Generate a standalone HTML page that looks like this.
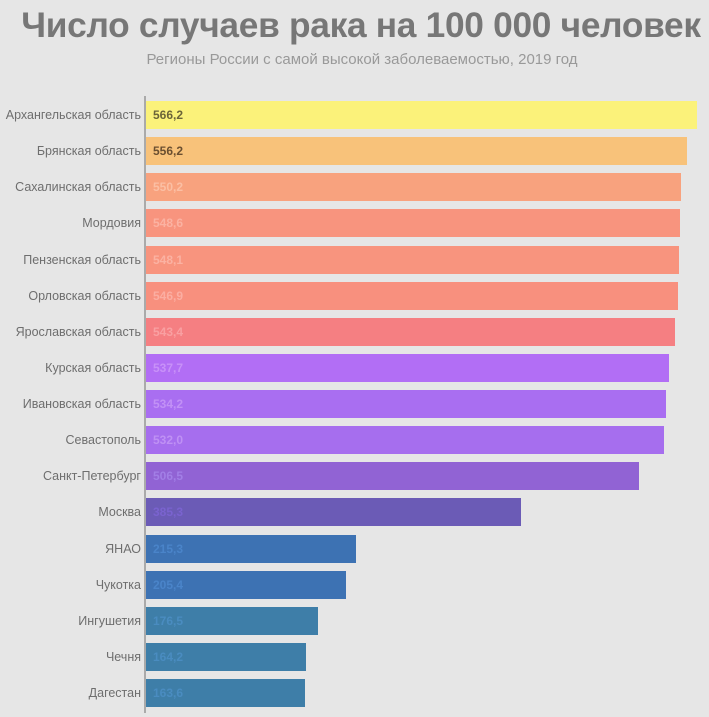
<!DOCTYPE html>
<html><head><meta charset="utf-8"><style>
body{margin:0;width:709px;height:717px;background:#e6e6e6;font-family:"Liberation Sans","DejaVu Sans",sans-serif;overflow:hidden;position:relative}
.t{position:absolute;left:0;width:722px;text-align:center;top:6px;font-size:35.3px;font-weight:bold;color:#777;white-space:nowrap;letter-spacing:-0.3px}
.s{position:absolute;left:0;width:724px;text-align:center;top:51px;font-size:15px;color:#999}
.ax{position:absolute;left:144px;top:96px;width:2px;height:617px;background:#aaa}
.l{position:absolute;right:568px;width:200px;text-align:right;font-size:12.5px;color:#6e6e6e;line-height:28px}
.b{position:absolute;left:146px;height:28px;font-size:12px;font-weight:bold;line-height:28px;box-sizing:border-box;padding-left:7px}
</style></head><body>
<div class="t">Число случаев рака на 100 000 человек</div>
<div class="s">Регионы России с самой высокой заболеваемостью, 2019 год</div>
<div class="ax"></div>
<div id="c"></div>
<script>
var d=[["Архангельская область",566.2,"#fbf27a","#6b6438"],["Брянская область",556.2,"#f8c27a","#6b4f30"],["Сахалинская область",550.2,"#f8a27e","#fbbfa4"],["Мордовия",548.6,"#f8947e","#fbb2a2"],["Пензенская область",548.1,"#f8947e","#fbb2a2"],["Орловская область",546.9,"#f8907e","#fbaea2"],["Ярославская область",543.4,"#f57f82","#f9a0a2"],["Курская область",537.7,"#b26ef5","#c891f8"],["Ивановская область",534.2,"#a96ef1","#c291f6"],["Севастополь",532.0,"#a66eee","#bf91f4"],["Санкт-Петербург",506.5,"#9163d4","#a27fe6"],["Москва",385.3,"#6b5bb6","#7a63cf"],["ЯНАО",215.3,"#3d72b3","#4a84c9"],["Чукотка",205.4,"#3d72b3","#4a84c9"],["Ингушетия",176.5,"#3e7ea8","#4a8cc0"],["Чечня",164.2,"#3e7ea8","#4a8cc0"],["Дагестан",163.6,"#3e7ea8","#4a8cc0"]];
var h="";d.forEach(function(e,i){var y=101+i*36.125;var w=e[1]*0.9732;
h+='<div class="l" style="top:'+y+'px">'+e[0]+'</div><div class="b" style="top:'+y+'px;width:'+w+'px;background:'+e[2]+';color:'+e[3]+'">'+e[1].toFixed(1).replace(".",",")+'</div>';});
document.getElementById("c").innerHTML=h;
</script>
</body></html>
